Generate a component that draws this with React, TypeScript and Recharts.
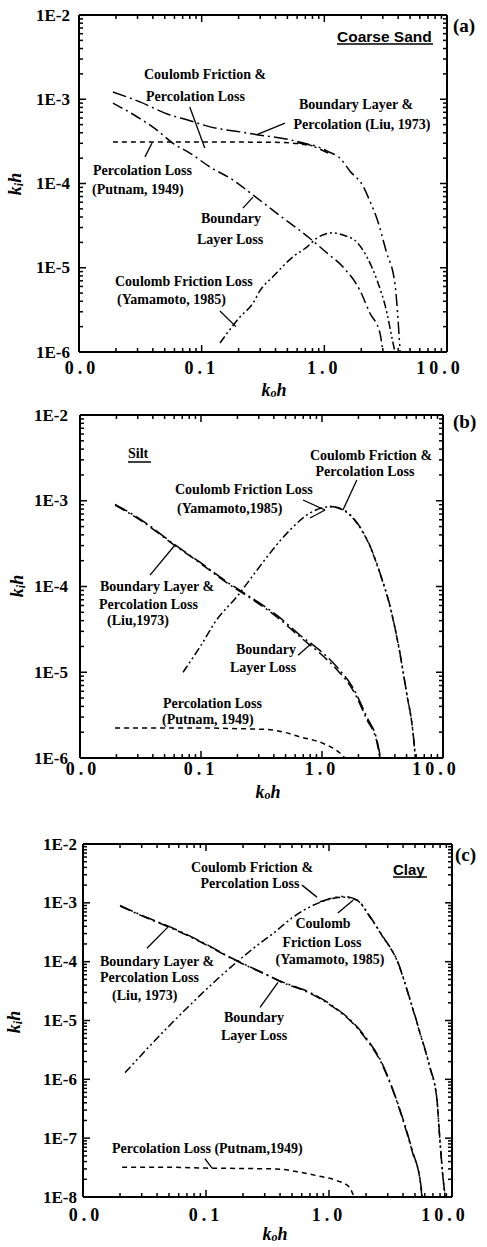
import React from 'react';
import { ComposedChart, Line, XAxis, YAxis, ReferenceLine, Scatter } from 'recharts';

// ---------- axis ticks ----------
const X_TICKS = [0.01, 0.1, 1, 10];
const X_TICK_LABELS = ['0.0', '0.1', '1.0', '10.0'];
const Y_TICKS_AB = [1e-6, 1e-5, 1e-4, 1e-3, 1e-2];
const Y_TICK_LABELS_AB = ['1E-6', '1E-5', '1E-4', '1E-3', '1E-2'];
const Y_TICKS_C = [1e-8, 1e-7, 1e-6, 1e-5, 1e-4, 1e-3, 1e-2];
const Y_TICK_LABELS_C = ['1E-8', '1E-7', '1E-6', '1E-5', '1E-4', '1E-3', '1E-2'];

// ---------- (a) Coarse Sand : [k0h, kih] ----------
const A_PERCOLATION = [[0.0189, 3.1e-4], [0.05, 3.1e-4], [0.1, 3.1e-4], [0.2, 3.1e-4], [0.4, 3.08e-4], [0.6, 2.98e-4], [0.8, 2.8e-4]];
const A_BOUNDARY = [[0.0189, 9.0e-4], [0.0297, 6.2e-4], [0.0432, 4.3e-4], [0.0584, 3.0e-4], [0.08, 2.3e-4], [0.117, 1.57e-4], [0.18, 1.1e-4], [0.262, 7.3e-5], [0.46, 3.9e-5], [0.76, 2.24e-5], [1.05, 1.5e-5], [1.42, 1.02e-5], [1.95, 5.4e-6], [2.35, 2.9e-6], [2.84, 1.68e-6], [3.0, 1.0e-6]];
const A_LIU = [[0.0189, 1.22e-3], [0.0314, 9.3e-4], [0.0552, 6.5e-4], [0.076, 5.7e-4], [0.117, 4.7e-4], [0.205, 4.1e-4], [0.282, 3.8e-4], [0.525, 3.3e-4], [0.72, 2.95e-4], [1.07, 2.3e-4]];
const A_COULOMB = [[0.141, 1.28e-6], [0.205, 2.6e-6], [0.262, 3.8e-6], [0.3, 5.4e-6], [0.38, 7.8e-6], [0.555, 1.35e-5], [0.72, 1.76e-5], [0.87, 2.25e-5], [1.17, 2.6e-5], [1.42, 2.45e-5], [1.85, 2.0e-5], [2.22, 1.35e-5], [2.69, 7.1e-6], [3.24, 2.9e-6], [3.55, 1.5e-6], [3.76, 1e-6]];
const A_COULOMB_PERC = [[0.6, 3.05e-4], [0.9, 2.7e-4], [1.07, 2.4e-4], [1.34, 2.0e-4], [1.62, 1.4e-4], [2.07, 9.3e-5], [2.36, 6.1e-5], [2.69, 3.8e-5], [3.2, 1.55e-5], [3.76, 6.5e-6], [4.15, 1e-6]];

// ---------- (b) Silt ----------
const B_PERCOLATION = [[0.0195, 2.24e-6], [0.05, 2.24e-6], [0.1, 2.24e-6], [0.2, 2.2e-6], [0.35, 2.15e-6], [0.5, 1.98e-6], [0.66, 1.76e-6], [1.0, 1.5e-6], [1.4, 1.15e-6], [1.55, 1e-6]];
const B_BOUNDARY = [[0.0195, 8.9e-4], [0.0332, 5.65e-4], [0.061, 3.0e-4], [0.098, 1.88e-4], [0.164, 1.1e-4], [0.269, 7.0e-5], [0.425, 4.4e-5], [0.66, 2.57e-5], [0.96, 1.67e-5], [1.33, 1.07e-5], [1.8, 6.2e-6], [2.35, 2.8e-6], [2.85, 1.5e-6], [3.0, 1e-6]];
const B_LIU = [[0.0195, 9.1e-4], [0.0332, 5.8e-4], [0.061, 3.05e-4], [0.098, 1.92e-4], [0.164, 1.13e-4], [0.269, 7.2e-5], [0.425, 4.6e-5], [0.66, 2.7e-5], [0.96, 1.8e-5], [1.33, 1.15e-5], [1.8, 6.6e-6], [2.35, 3.0e-6], [2.85, 1.6e-6], [3.05, 1e-6]];
const B_COULOMB = [[0.071, 1e-5], [0.098, 1.97e-5], [0.135, 4.1e-5], [0.198, 7.6e-5], [0.29, 1.55e-4], [0.39, 2.67e-4], [0.544, 4.56e-4], [0.796, 7.2e-4], [1.16, 8.5e-4], [1.49, 7.8e-4], [1.94, 5.5e-4], [2.5, 2.9e-4], [3.0, 1.44e-4], [3.65, 5.8e-5], [4.4, 1.67e-5], [5.0, 5.7e-6], [5.65, 1.96e-6], [5.9, 1e-6]];
const B_COULOMB_PERC = [[1.16, 8.6e-4], [1.49, 7.9e-4], [1.94, 5.6e-4], [2.5, 2.95e-4], [3.0, 1.47e-4], [3.65, 5.9e-5], [4.4, 1.7e-5], [5.0, 5.8e-6], [5.65, 2.0e-6], [5.92, 1e-6]];

// ---------- (c) Clay ----------
const C_PERCOLATION = [[0.0208, 3.2e-8], [0.05, 3.2e-8], [0.1, 3.1e-8], [0.2, 3.05e-8], [0.37, 3.0e-8], [0.6, 2.6e-8], [0.8, 2.3e-8], [1.16, 1.9e-8], [1.45, 1.5e-8], [1.6, 1e-8]];
const C_BOUNDARY = [[0.02, 8.8e-4], [0.0308, 5.9e-4], [0.051, 3.8e-4], [0.089, 2.2e-4], [0.166, 1.1e-4], [0.313, 5.9e-5], [0.4, 4.6e-5], [0.7, 2.9e-5], [1.08, 1.7e-5], [1.57, 8.9e-6], [2.04, 4.6e-6], [2.6, 2.1e-6], [3.3, 6.5e-7], [4.0, 2.0e-7], [4.8, 5.5e-8], [5.5, 1.9e-8], [5.7, 1e-8]];
const C_LIU = [[0.02, 9.0e-4], [0.0308, 6.0e-4], [0.051, 3.9e-4], [0.089, 2.25e-4], [0.166, 1.12e-4], [0.313, 6.0e-5], [0.4, 4.7e-5], [0.7, 3.0e-5], [1.08, 1.75e-5], [1.57, 9.2e-6], [2.04, 4.8e-6], [2.6, 2.2e-6], [3.3, 6.8e-7], [4.0, 2.1e-7], [4.8, 5.8e-8], [5.5, 2.0e-8], [5.75, 1e-8]];
const C_COULOMB = [[0.022, 1.3e-6], [0.048, 7.4e-6], [0.275, 2.06e-4], [0.35, 3.0e-4], [0.51, 5.7e-4], [0.845, 1.02e-3], [1.3, 1.25e-3], [1.69, 1.1e-3], [2.16, 5.7e-4], [2.75, 2.6e-4], [3.57, 1.05e-4], [4.57, 2.2e-5], [5.5, 6.0e-6], [6.6, 1.6e-6], [7.55, 4.4e-7], [7.9, 1.2e-7], [8.45, 2.1e-8], [8.8, 1e-8]];
const C_COULOMB_PERC = [[0.845, 1.04e-3], [1.3, 1.28e-3], [1.69, 1.12e-3], [2.16, 5.8e-4], [2.75, 2.65e-4], [3.57, 1.07e-4], [4.57, 2.25e-5], [5.5, 6.2e-6], [6.6, 1.65e-6], [7.55, 4.5e-7], [7.9, 1.25e-7], [8.45, 2.15e-8], [8.82, 1e-8]];

// ---------- leader lines [x1, y1, x2, y2] in data units ----------
const A_LEADERS = [[0.08, 8.1e-4, 0.106, 2.64e-4], [0.478, 5.2e-4, 0.282, 3.8e-4], [0.0345, 2.07e-4, 0.0394, 3.03e-4], [0.217, 5.1e-5, 0.262, 6.9e-5], [0.141, 3.07e-6, 0.19, 2.0e-6]];
const B_LEADERS = [[1.94, 1.75e-3, 1.49, 7.8e-4], [0.697, 1.02e-3, 1.06, 7.8e-4], [1.06, 7.8e-4, 0.796, 6.3e-4], [0.0379, 1.36e-4, 0.061, 3.05e-4], [0.634, 1.58e-5, 0.826, 2.19e-5]];
const C_LEADERS = [[0.603, 2.0e-3, 0.798, 1.25e-3], [1.18, 6.7e-4, 1.57, 1.11e-3], [0.0331, 1.69e-4, 0.049, 3.86e-4], [0.275, 1.67e-5, 0.385, 4.46e-5], [0.098, 4.5e-8, 0.112, 3.1e-8]];

// ---------- styles ----------
const DASH = {
  perc: '5 4',
  boundary: '11 4 2 4',
  liu: '14 4 2 4',
  coulomb: '8 3 2 3 2 3',
  cperc: '12 4 2 4 2 4',
};
const SERIF = "'Liberation Serif', 'Times New Roman', serif";
const SANS = "'Liberation Sans', Arial, sans-serif";
const W = 487;

const toPts = (arr: number[][]) => arr.map(([x, y]) => ({ x, y }));
const isMajor = (v: number) => Math.abs(Math.log10(v) - Math.round(Math.log10(v))) < 1e-6;
const logTicks = (lo: number, hi: number) => {
  const out: number[] = [];
  for (let e = lo; e < hi; e++) {
    const d = Math.pow(10, e);
    for (let k = 1; k < 10; k++) out.push(k * d);
  }
  out.push(Math.pow(10, hi));
  return out;
};
const findLabel = (v: number, ticks: number[], labels: string[]) => {
  const i = ticks.findIndex((t) => Math.abs(Math.log10(t) - Math.log10(v)) < 1e-6);
  return i >= 0 ? labels[i] : null;
};

type Panel = {
  top: number;
  height: number;
  plot: { left: number; right: number; top: number; bottom: number };
  yDomain: [number, number];
  yTicks: number[];
  yLabels: string[];
  xLabelOffset: number;
  yLabelGap: number;
  series: { data: number[][]; dash: string }[];
  leaders: number[][];
};

const TICK_MAJ = 7;
const TICK_MIN = 4;
const TICK_W = 1.5;

// Tick marks drawn as scatter symbols sitting on the frame, pointing inward.
const tickMark = (dir: 'up' | 'down' | 'left' | 'right') => (props: any) => {
  const cx = Number(props.cx);
  const cy = Number(props.cy);
  if (!isFinite(cx) || !isFinite(cy)) return <g />;
  const len = props.payload && props.payload.major ? TICK_MAJ : TICK_MIN;
  let x2 = cx, y2 = cy;
  if (dir === 'up') y2 = cy - len;
  if (dir === 'down') y2 = cy + len;
  if (dir === 'left') x2 = cx - len;
  if (dir === 'right') x2 = cx + len;
  return <line x1={cx} y1={cy} x2={x2} y2={y2} stroke="#000" strokeWidth={TICK_W} />;
};
const TICK_UP = tickMark('up');
const TICK_DOWN = tickMark('down');
const TICK_LEFT = tickMark('left');
const TICK_RIGHT = tickMark('right');

function PanelChart({ p }: { p: Panel }) {
  const xAll = logTicks(-2, 1);
  const yAll = logTicks(Math.round(Math.log10(p.yDomain[0])), Math.round(Math.log10(p.yDomain[1])));
  const [yLo, yHi] = p.yDomain;
  const bottomMarks = xAll.map((v) => ({ x: v, y: yLo, major: isMajor(v) }));
  const topMarks = xAll.map((v) => ({ x: v, y: yHi, major: isMajor(v) }));
  const leftMarks = yAll.map((v) => ({ x: 0.01, y: v, major: isMajor(v) }));
  const rightMarks = yAll.map((v) => ({ x: 10, y: v, major: isMajor(v) }));
  const axisLine = { stroke: '#000', strokeWidth: 2 };

  const bottomTick = (props: any) => {
    const x = Number(props.x);
    const y = Number(props.y);
    const lab = findLabel(props.payload.value, X_TICKS, X_TICK_LABELS);
    if (!lab) return <g />;
    const dx = lab === '10.0' ? -7 : lab === '0.0' ? 3 : 0;
    return (
      <text x={x + dx} y={y} textAnchor="middle" dominantBaseline="central" fontFamily={SERIF} fontWeight="bold" fontSize={18} letterSpacing={4} fill="#000">
        {lab}
      </text>
    );
  };
  const leftTick = (props: any) => {
    const x = Number(props.x);
    const y = Number(props.y);
    const lab = findLabel(props.payload.value, p.yTicks, p.yLabels);
    if (!lab) return <g />;
    return (
      <text x={x} y={y} textAnchor="end" dominantBaseline="central" fontFamily={SERIF} fontWeight="bold" fontSize={17} fill="#000">
        {lab}
      </text>
    );
  };

  return (
    <div style={{ position: 'absolute', left: 0, top: p.top }}>
      <ComposedChart
        width={W}
        height={p.height}
        margin={{ top: p.plot.top - p.top - 1, right: W - p.plot.right - 1, bottom: 0, left: 0 }}
      >
        <XAxis xAxisId={0} type="number" dataKey="x" scale="log" domain={[0.01, 10]} allowDataOverflow ticks={X_TICKS} interval={0}
          height={p.height - (p.plot.bottom - p.top)} tickSize={0} tickMargin={p.xLabelOffset} tickLine={false} axisLine={axisLine} tick={bottomTick} />
        <XAxis xAxisId="top" orientation="top" type="number" dataKey="x" scale="log" domain={[0.01, 10]} allowDataOverflow ticks={X_TICKS} interval={0}
          height={1} tickLine={false} axisLine={axisLine} tick={false} />
        <YAxis yAxisId={0} type="number" scale="log" domain={p.yDomain} allowDataOverflow ticks={p.yTicks} interval={0}
          width={p.plot.left} tickSize={0} tickMargin={p.yLabelGap} tickLine={false} axisLine={axisLine} tick={leftTick} />
        <YAxis yAxisId="right" orientation="right" type="number" scale="log" domain={p.yDomain} allowDataOverflow ticks={p.yTicks} interval={0}
          width={1} tickLine={false} axisLine={axisLine} tick={false} />
        {p.series.map((s, i) => (
          <Line key={i} data={toPts(s.data)} dataKey="y" type="monotone" dot={false} activeDot={false}
            stroke="#000" strokeWidth={1.5} strokeDasharray={s.dash} isAnimationActive={false} />
        ))}
        <Scatter data={bottomMarks} dataKey="y" shape={TICK_UP} isAnimationActive={false} />
        <Scatter data={topMarks} dataKey="y" shape={TICK_DOWN} isAnimationActive={false} />
        <Scatter data={leftMarks} dataKey="y" shape={TICK_RIGHT} isAnimationActive={false} />
        <Scatter data={rightMarks} dataKey="y" shape={TICK_LEFT} isAnimationActive={false} />
        {p.leaders.map((l, i) => (
          <ReferenceLine key={'l' + i} segment={[{ x: l[0], y: l[1] }, { x: l[2], y: l[3] }]} stroke="#000" strokeWidth={1.3} ifOverflow="visible" />
        ))}
      </ComposedChart>
    </div>
  );
}

const PANELS: Panel[] = [
  {
    top: 0, height: 400, plot: { left: 79, right: 447, top: 15, bottom: 352 },
    yDomain: [1e-6, 1e-2], yTicks: Y_TICKS_AB, yLabels: Y_TICK_LABELS_AB, xLabelOffset: 16, yLabelGap: 9,
    series: [
      { data: A_PERCOLATION, dash: DASH.perc },
      { data: A_BOUNDARY, dash: DASH.boundary },
      { data: A_LIU, dash: DASH.liu },
      { data: A_COULOMB, dash: DASH.coulomb },
      { data: A_COULOMB_PERC, dash: DASH.cperc },
    ],
    leaders: A_LEADERS,
  },
  {
    top: 400, height: 400, plot: { left: 80, right: 443, top: 415, bottom: 758 },
    yDomain: [1e-6, 1e-2], yTicks: Y_TICKS_AB, yLabels: Y_TICK_LABELS_AB, xLabelOffset: 11, yLabelGap: 12,
    series: [
      { data: B_PERCOLATION, dash: DASH.perc },
      { data: B_BOUNDARY, dash: DASH.boundary },
      { data: B_LIU, dash: DASH.liu },
      { data: B_COULOMB, dash: DASH.coulomb },
      { data: B_COULOMB_PERC, dash: DASH.cperc },
    ],
    leaders: B_LEADERS,
  },
  {
    top: 800, height: 447, plot: { left: 83, right: 452, top: 844, bottom: 1197 },
    yDomain: [1e-8, 1e-2], yTicks: Y_TICKS_C, yLabels: Y_TICK_LABELS_C, xLabelOffset: 18, yLabelGap: 6,
    series: [
      { data: C_PERCOLATION, dash: DASH.perc },
      { data: C_BOUNDARY, dash: DASH.boundary },
      { data: C_LIU, dash: DASH.liu },
      { data: C_COULOMB, dash: DASH.coulomb },
      { data: C_COULOMB_PERC, dash: DASH.cperc },
    ],
    leaders: C_LEADERS,
  },
];

type Note = { t: string; x: number; y: number; a?: 'start' | 'middle' | 'end' };
const NOTES: Note[] = [
  // (a)
  { t: 'Coulomb Friction &', x: 144, y: 74 },
  { t: 'Percolation Loss', x: 146, y: 96 },
  { t: 'Boundary Layer &', x: 356, y: 104, a: 'middle' },
  { t: 'Percolation (Liu, 1973)', x: 362, y: 124, a: 'middle' },
  { t: 'Percolation Loss', x: 93, y: 170 },
  { t: '(Putnam, 1949)', x: 92, y: 189 },
  { t: 'Boundary', x: 231, y: 218, a: 'middle' },
  { t: 'Layer Loss', x: 230, y: 239, a: 'middle' },
  { t: 'Coulomb Friction Loss', x: 115, y: 281 },
  { t: '(Yamamoto, 1985)', x: 117, y: 299 },
  // (b)
  { t: 'Silt', x: 128, y: 453 },
  { t: 'Coulomb Friction &', x: 371, y: 455, a: 'middle' },
  { t: 'Percolation Loss', x: 365, y: 471, a: 'middle' },
  { t: 'Coulomb Friction Loss', x: 175, y: 489 },
  { t: '(Yamamoto,1985)', x: 177, y: 508 },
  { t: 'Boundary Layer &', x: 100, y: 586 },
  { t: 'Percolation Loss', x: 99, y: 604 },
  { t: '(Liu,1973)', x: 107, y: 620 },
  { t: 'Boundary', x: 266, y: 649, a: 'middle' },
  { t: 'Layer Loss', x: 263, y: 667, a: 'middle' },
  { t: 'Percolation Loss', x: 163, y: 703 },
  { t: '(Putnam, 1949)', x: 162, y: 719 },
  // (c)
  { t: 'Coulomb Friction &', x: 252, y: 867, a: 'middle' },
  { t: 'Percolation Loss', x: 250, y: 883, a: 'middle' },
  { t: 'Coulomb', x: 323, y: 923, a: 'middle' },
  { t: 'Friction Loss', x: 322, y: 942, a: 'middle' },
  { t: '(Yamamoto, 1985)', x: 330, y: 959, a: 'middle' },
  { t: 'Boundary Layer &', x: 100, y: 961 },
  { t: 'Percolation Loss', x: 100, y: 977 },
  { t: '(Liu, 1973)', x: 112, y: 995 },
  { t: 'Boundary', x: 254, y: 1017, a: 'middle' },
  { t: 'Layer Loss', x: 254, y: 1035, a: 'middle' },
  { t: 'Percolation Loss (Putnam,1949)', x: 112, y: 1148 },
];

const PANEL_TAGS = [
  { t: '(a)', x: 453, y: 25 },
  { t: '(b)', x: 453, y: 421 },
  { t: '(c)', x: 455, y: 854 },
];
const SOIL_TAGS = [
  { t: 'Coarse Sand', x: 337, y: 36, w: 96, fs: 15.5 },
  { t: 'Clay', x: 393, y: 869, w: 34, fs: 15 },
];
const X_TITLES = [{ x: 274, y: 390 }, { x: 268, y: 792 }, { x: 275, y: 1234 }];
const Y_TITLES = [{ x: 15, y: 184 }, { x: 17, y: 586 }, { x: 14, y: 1022 }];

export default function App() {
  return (
    <div style={{ position: 'absolute', left: 0, top: 0, width: W, height: 1247, background: '#fff', overflow: 'hidden' }}>
      {PANELS.map((p, i) => (
        <PanelChart key={i} p={p} />
      ))}
      <svg width={W} height={1247} style={{ position: 'absolute', left: 0, top: 0, pointerEvents: 'none' }}>
        {NOTES.map((n, i) => (
          <text key={i} x={n.x} y={n.y} textAnchor={n.a || 'start'} dominantBaseline="central" fontFamily={SERIF} fontWeight="bold" fontSize={14} fill="#000">
            {n.t}
          </text>
        ))}
        <line x1={128} x2={151} y1={462} y2={462} stroke="#000" strokeWidth={1.5} />
        {SOIL_TAGS.map((s, i) => (
          <g key={i}>
            <text x={s.x} y={s.y} dominantBaseline="central" fontFamily={SANS} fontWeight="bold" fontSize={s.fs} fill="#000">{s.t}</text>
            <line x1={s.x} x2={s.x + s.w} y1={s.y + 8} y2={s.y + 8} stroke="#000" strokeWidth={1.5} />
          </g>
        ))}
        {PANEL_TAGS.map((s, i) => (
          <text key={i} x={s.x} y={s.y} dominantBaseline="central" fontFamily={SERIF} fontWeight="bold" fontSize={19} fill="#000">{s.t}</text>
        ))}
        {X_TITLES.map((s, i) => (
          <text key={i} x={s.x} y={s.y} textAnchor="middle" dominantBaseline="central" fontFamily={SERIF} fontWeight="bold" fontStyle="italic" fontSize={18} fill="#000">
            <tspan>k</tspan>
            <tspan dy={3} fontSize={12}>o</tspan>
            <tspan dy={-3}>h</tspan>
          </text>
        ))}
        {Y_TITLES.map((s, i) => (
          <text key={i} x={0} y={0} transform={`translate(${s.x},${s.y}) rotate(-90)`} textAnchor="middle" dominantBaseline="central" fontFamily={SERIF} fontWeight="bold" fontStyle="italic" fontSize={18} fill="#000">
            <tspan>k</tspan>
            <tspan dy={4} fontSize={12}>i</tspan>
            <tspan dy={-4}>h</tspan>
          </text>
        ))}
      </svg>
    </div>
  );
}
